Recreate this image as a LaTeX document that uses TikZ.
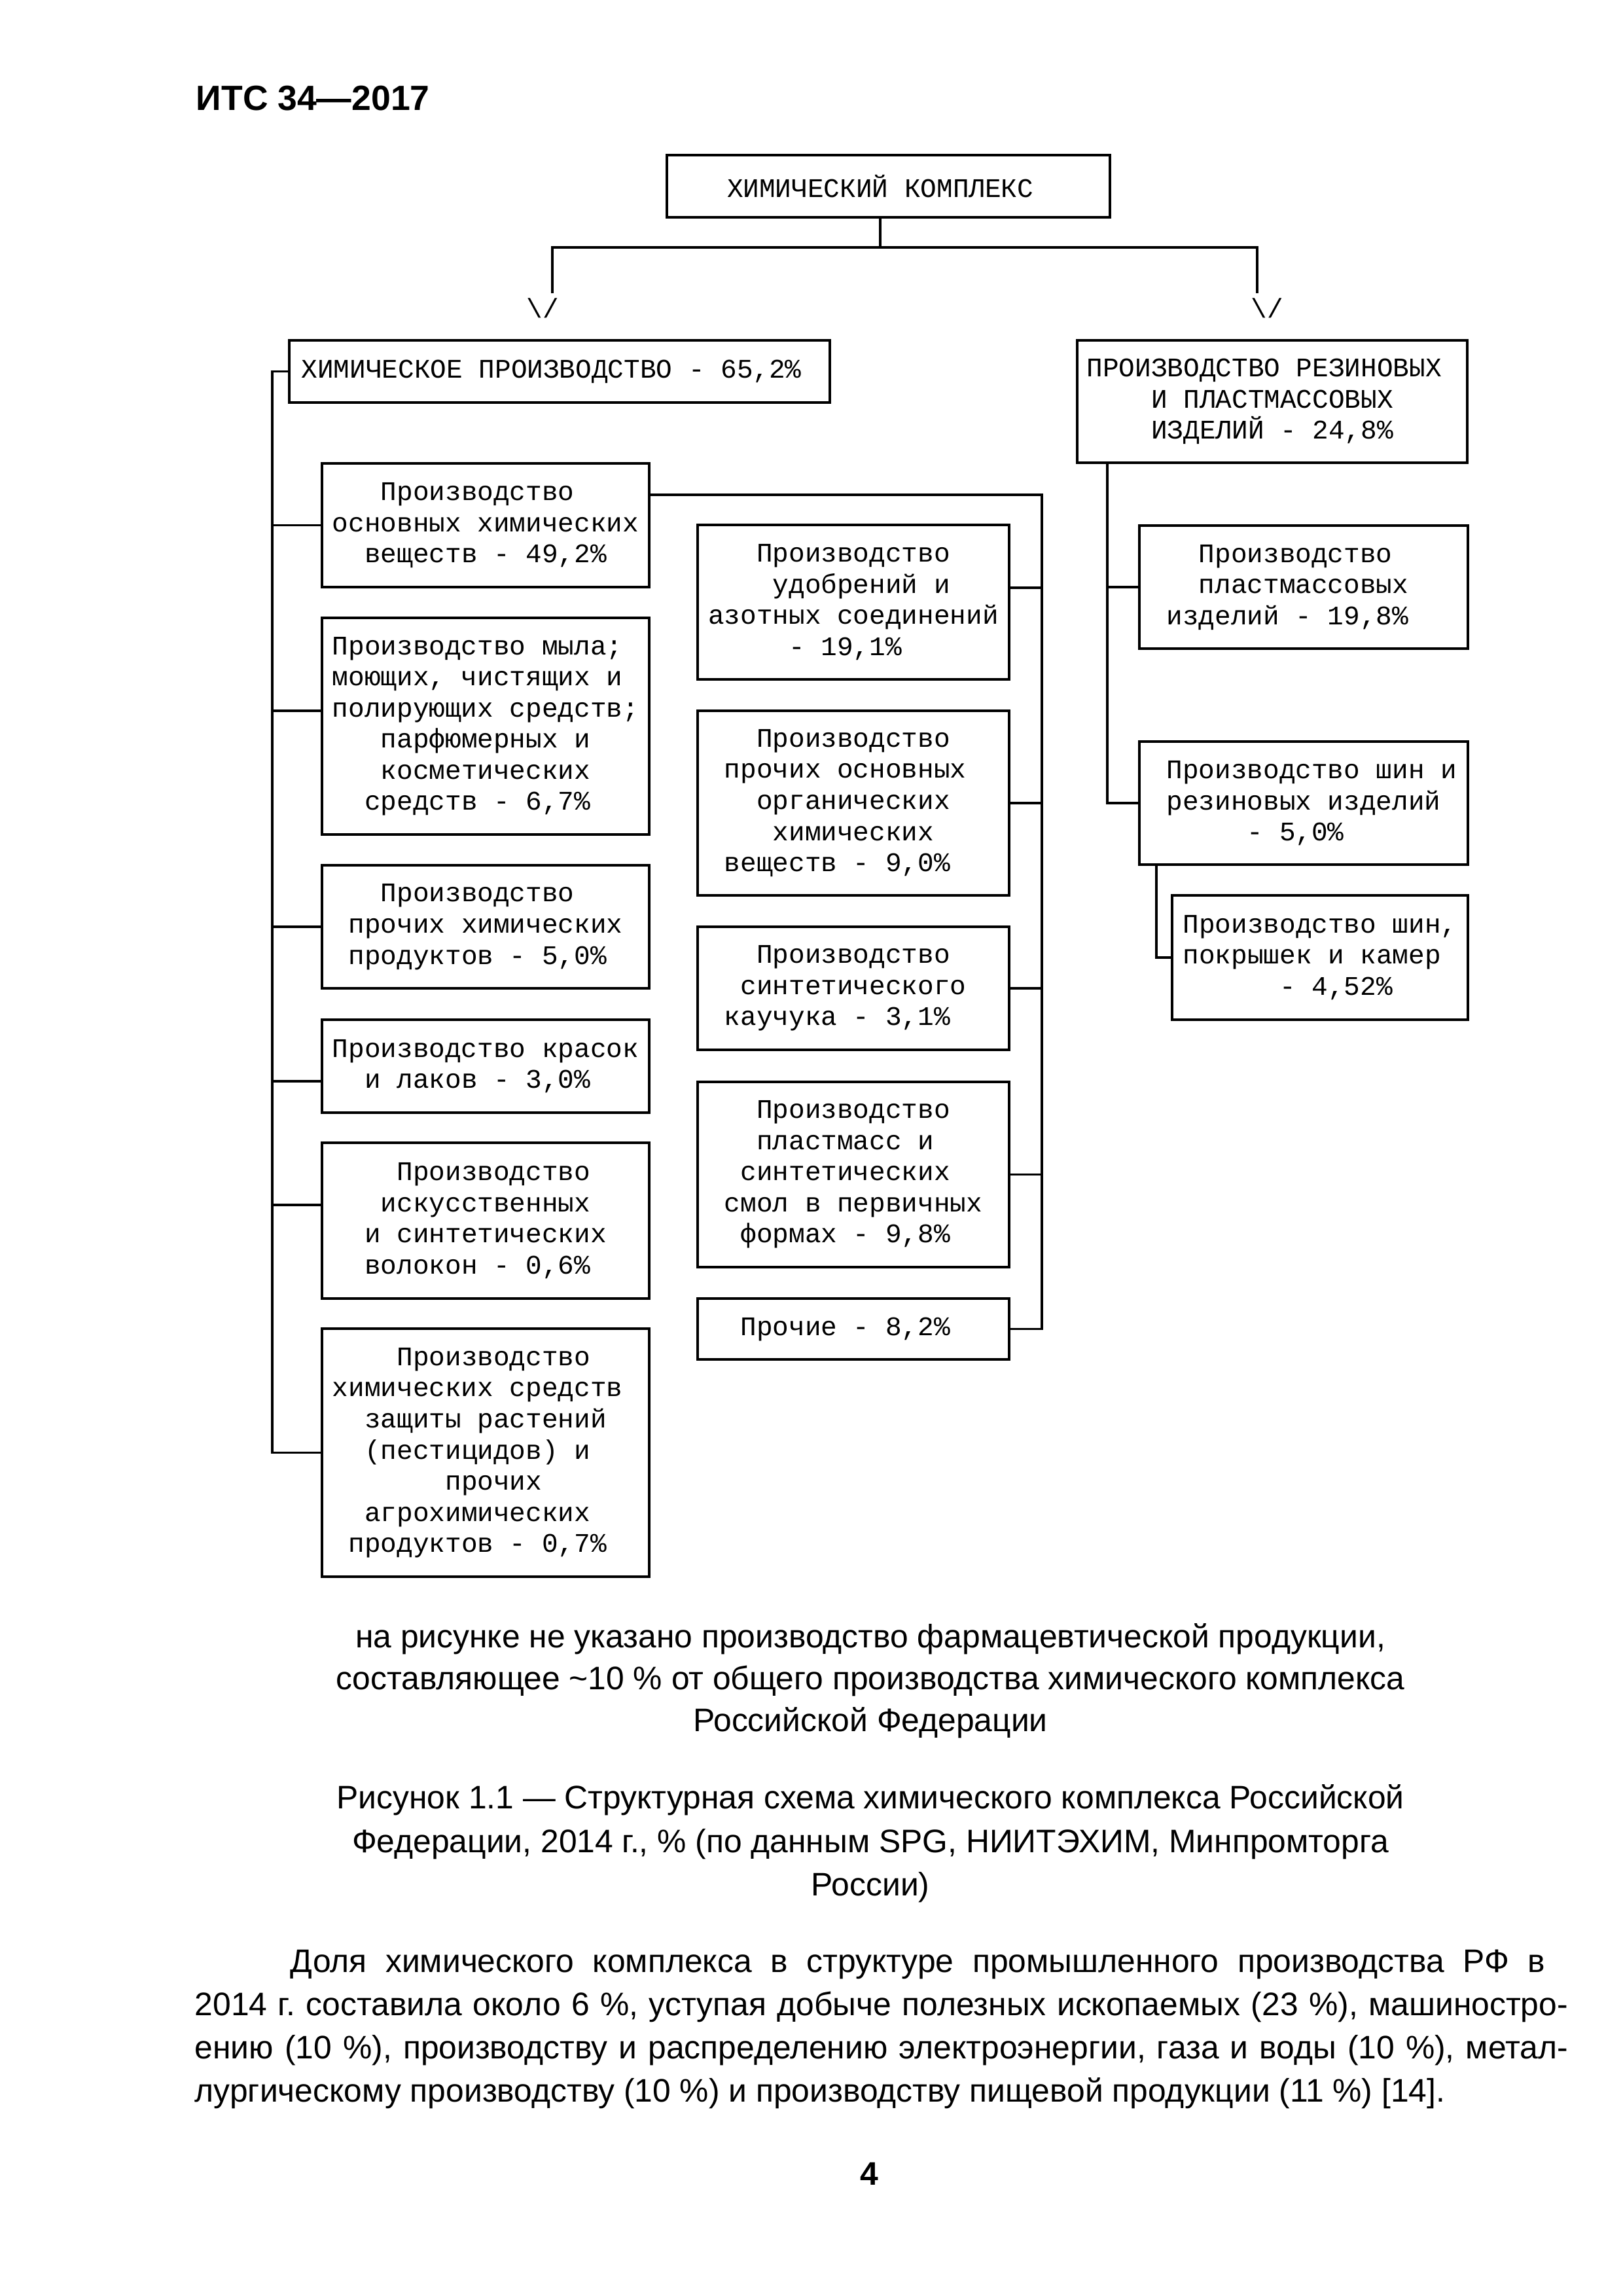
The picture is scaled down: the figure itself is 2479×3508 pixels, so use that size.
\documentclass[tikz,border=0pt]{standalone}
\usepackage{fontspec}
\setmainfont{Liberation Sans}
\newfontfamily\cour{Liberation Mono}
\newcommand\ph{\phantom{0}}
\frenchspacing
\tikzset{
  box/.style={draw, line width=0.85pt, inner sep=0pt, align=center,
    font=\cour\fontsize{9.9}{11.47}\selectfont},
  ln/.style={line width=0.85pt},
  glyph/.style={inner sep=0pt, font=\cour\fontsize{9.9}{11.47}\selectfont},
  txt/.style={inner sep=0pt, font=\fontsize{12}{14}\selectfont},
  head/.style={inner sep=0pt, font=\bfseries\fontsize{12.9}{15}\selectfont},
}
\newcommand\mkbox[6]{\node[box, minimum width={(#4-#2)*0.084712mm}, minimum height={(#5-#3)*0.084712mm}] (#1) at ({(#2+#4)/2},{(#3+#5)/2}) {#6};}
\begin{document}
\begin{tikzpicture}[x=0.084712mm, y=-0.084712mm]
\useasboundingbox (0,0) rectangle (2479,3508);
\fill[white] (0,0) rectangle (2479,3508);

% header
\node[head, anchor=base west] (hdr) at (299,168) {ИТС 34—2017};

% boxes
\mkbox{top}{1019}{237}{1696}{332}{ХИМИЧЕСКИЙ КОМПЛЕКС\ph}
\mkbox{chem}{442}{520}{1268}{615}{ХИМИЧЕСКОЕ ПРОИЗВОДСТВО - 65,2\%\ph}
\mkbox{rub}{1646}{520}{2242}{707}{ПРОИЗВОДСТВО РЕЗИНОВЫХ\ph\\И ПЛАСТМАССОВЫХ\\ИЗДЕЛИЙ - 24,8\%}

\mkbox{b1}{492}{708}{992}{897}{Производство\ph\\основных химических\\веществ - 49,2\%}
\mkbox{b2}{492}{944}{992}{1275}{Производство мыла;\ph\\моющих, чистящих и\ph\\полирующих средств;\\парфюмерных и\\косметических\\средств - 6,7\%\ph}
\mkbox{b3}{492}{1322}{992}{1510}{Производство\ph\\прочих химических\\продуктов - 5,0\%\ph}
\mkbox{b4}{492}{1558}{992}{1700}{Производство красок\\и лаков - 3,0\%\ph}
\mkbox{b5}{492}{1746}{992}{1984}{\ph Производство\\искусственных\\и синтетических\\волокон - 0,6\%\ph}
\mkbox{b6}{492}{2030}{992}{2409}{\ph Производство\\химических средств\ph\\защиты растений\\(пестицидов) и\ph\\\ph прочих\\агрохимических\ph\\продуктов - 0,7\%\ph}

\mkbox{m1}{1066}{802}{1542}{1038}{Производство\\\ph удобрений и\\азотных соединений\\- 19,1\%\ph}
\mkbox{m2}{1066}{1086}{1542}{1368}{Производство\\прочих основных\ph\\органических\\химических\\веществ - 9,0\%\ph\ph}
\mkbox{m3}{1066}{1416}{1542}{1604}{Производство\\синтетического\\каучука - 3,1\%\ph\ph}
\mkbox{m4}{1066}{1653}{1542}{1936}{Производство\\пластмасс и\ph\\синтетических\ph\\смол в первичных\\формах - 9,8\%\ph}
\mkbox{m5}{1066}{1984}{1542}{2077}{Прочие - 8,2\%\ph}

\mkbox{r1}{1741}{803}{2243}{991}{Производство\ph\\пластмассовых\\изделий - 19,8\%\ph\ph}
\mkbox{r2}{1741}{1133}{2243}{1321}{\ph Производство шин и\\резиновых изделий\\- 5,0\%\ph}
\mkbox{r3}{1791}{1368}{2243}{1558}{Производство шин,\\покрышек и камер\ph\\\ph\ph - 4,52\%}

% arrow glyphs
\node[glyph] (al) at (829,471) {\textbackslash/};
\node[glyph] (ar) at (1936,471) {\textbackslash/};

% top connectors
\coordinate (jt) at (1345,378);
\coordinate (jl) at (844,378);
\coordinate (jr) at (1921,378);
\coordinate (el) at (844,448);
\coordinate (er) at (1921,448);
\draw[ln] (top.south -| jt) -- (jt);
\draw[ln] (el) -- (jl) -- (jr) -- (er);

% left trunk
\coordinate (lt) at (416,567);
\draw[ln] (chem.west) -- (chem.west -| lt) -- (lt |- b6.west) -- (b6.west);
\draw[ln] (lt |- b1.west) -- (b1.west);
\draw[ln] (lt |- 0,1086) -- (b2.west |- 0,1086);
\draw[ln] (lt |- b3.west) -- (b3.west);
\draw[ln] (lt |- 0,1652) -- (b4.west |- 0,1652);
\draw[ln] (lt |- 0,1841) -- (b5.west |- 0,1841);

% middle trunk
\coordinate (mt) at (1592,756);
\draw[ln] (b1.east |- mt) -- (mt) -- (mt |- m5.east) -- (m5.east);
\draw[ln] (m1.east |- 0,898) -- (mt |- 0,898);
\draw[ln] (m2.east) -- (m2.east -| mt);
\draw[ln] (m3.east) -- (m3.east -| mt);
\draw[ln] (m4.east) -- (m4.east -| mt);

% right trunk
\coordinate (rt) at (1692,707);
\draw[ln] (rub.south -| rt) -- (rt |- r2.west) -- (r2.west);
\draw[ln] (rt |- r1.west) -- (r1.west);
\coordinate (rt2) at (1767,1321);
\draw[ln] (r2.south -| rt2) -- (rt2 |- r3.west) -- (r3.west);

% note
\node[txt, anchor=base] (n1) at (1330,2517) {на рисунке не указано производство фармацевтической продукции,};
\node[txt, anchor=base] (n2) at (1330,2581) {составляющее \textasciitilde10 \% от общего производства химического комплекса};
\node[txt, anchor=base] (n3) at (1330,2645) {Российской Федерации};

% caption
\node[txt, anchor=base] (c1) at (1330,2763) {Рисунок 1.1 — Структурная схема химического комплекса Российской};
\node[txt, anchor=base] (c2) at (1330,2830) {Федерации, 2014 г., \% (по данным SPG, НИИТЭХИМ, Минпромторга};
\node[txt, anchor=base] (c3) at (1330,2896) {России)};

% body
\node[txt, anchor=base west] (p1) at (443,3013) {\makebox[162.39mm][s]{Доля химического комплекса в структуре промышленного производства РФ в}};
\node[txt, anchor=base west] (p2) at (297,3079) {\makebox[177.73mm][s]{2014 г. составила около 6 \%, уступая добыче полезных ископаемых (23 \%), машиностро-}};
\node[txt, anchor=base west] (p3) at (297,3145) {\makebox[177.73mm][s]{ению (10 \%), производству и распределению электроэнергии, газа и воды (10 \%), метал-}};
\node[txt, anchor=base west] (p4) at (297,3211) {лургическому производству (10 \%) и производству пищевой продукции (11 \%) [14].};

% page number
\node[txt, font=\bfseries\fontsize{12}{14}\selectfont, anchor=base] (pg) at (1328,3338) {4};
\end{tikzpicture}
\end{document}
